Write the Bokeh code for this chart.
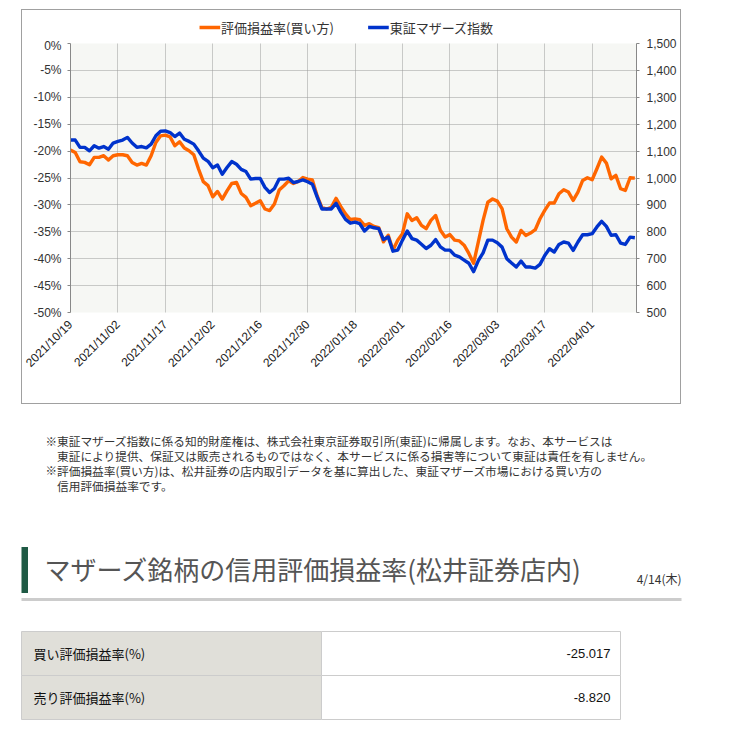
import math
from bokeh.plotting import figure
from bokeh.models import (Range1d, LinearAxis, FixedTicker, PrintfTickFormatter,
                          NumeralTickFormatter, ColumnDataSource, Spacer)
from bokeh.layouts import column, row
from bokeh.embed import file_html
from bokeh.resources import INLINE
from bokeh.core.properties import value

# ---------------- data ----------------
tick_labels = ["2021/10/19", "2021/11/02", "2021/11/17", "2021/12/02", "2021/12/16",
               "2021/12/30", "2022/01/18", "2022/02/01", "2022/02/16", "2022/03/03",
               "2022/03/17", "2022/04/01"]

# 評価損益率(買い方) [%]
buy_rate = [
    -19.81, -20.25, -21.98, -22.10, -22.53, -21.17, -21.17, -20.86, -21.67, -20.86,
    -20.68, -20.68, -20.86, -22.10, -22.59, -22.28, -22.59, -20.86, -18.40, -17.16,
    -17.04, -17.35, -19.01, -18.27, -19.44, -19.94, -20.68, -23.33, -25.68, -26.42,
    -28.50, -27.50, -28.91, -27.38, -26.02, -25.84, -27.87, -28.60, -30.14, -29.71,
    -29.22, -30.76, -31.06, -29.83, -27.25, -26.45, -25.53, -26.02, -25.65, -24.92,
    -25.22, -25.35, -28.30, -30.45, -30.76, -30.45, -28.79, -30.33, -31.68, -32.72,
    -32.60, -32.76, -33.80, -33.50, -33.99, -34.23, -36.87, -35.64, -38.40, -36.56,
    -35.34, -31.66, -32.88, -32.39, -33.80, -34.42, -32.88, -31.96, -34.72, -35.95,
    -35.52, -36.56, -36.69, -37.48, -39.02, -40.86, -36.87, -32.88, -29.51, -28.90,
    -29.30, -30.71, -34.43, -35.98, -36.90, -34.74, -35.67, -35.23, -34.61, -32.57,
    -31.02, -29.66, -29.66, -27.93, -27.18, -27.62, -29.16, -27.62, -25.45, -24.95,
    -25.33, -23.28, -21.11, -22.23, -25.14, -24.52, -27.00, -27.31, -24.95, -25.02,
]

# 東証マザーズ指数
mothers_index = [
    1141, 1141, 1114, 1114, 1101, 1120, 1111, 1117, 1107, 1130,
    1136, 1141, 1151, 1130, 1114, 1117, 1112, 1126, 1157, 1174,
    1175, 1169, 1154, 1167, 1144, 1136, 1126, 1101, 1074, 1062,
    1038, 1048, 1014, 1039, 1061, 1051, 1032, 1024, 996, 998,
    998, 965, 946, 961, 996, 996, 999, 983, 987, 993,
    986, 977, 930, 885, 885, 885, 906, 873, 846, 832,
    836, 830, 803, 820, 815, 812, 771, 781, 728, 732,
    769, 803, 775, 769, 754, 738, 750, 771, 744, 732,
    732, 713, 707, 695, 683, 652, 693, 722, 769, 769,
    759, 743, 700, 684, 669, 691, 669, 669, 665, 679,
    712, 737, 725, 753, 762, 758, 731, 762, 789, 789,
    793, 818, 839, 820, 787, 789, 758, 753, 780, 778,
]

series_names = ["評価損益率(買い方)", "東証マザーズ指数"]
series_colors = ["#ff6600", "#0033cc"]

note_lines = [
    "東証マザーズ指数に係る知的財産権は、株式会社東京証券取引所(東証)に帰属します。なお、本サービスは",
    "東証により提供、保証又は販売されるものではなく、本サービスに係る損害等について東証は責任を有しません。",
    "評価損益率(買い方)は、松井証券の店内取引データを基に算出した、東証マザーズ市場における買い方の",
    "信用評価損益率です。",
]
heading = "マザーズ銘柄の信用評価損益率(松井証券店内)"
heading_date = "4/14(木)"
table_labels = ["買い評価損益率(%)", "売り評価損益率(%)"]
table_values = ["-25.017", "-8.820"]

JP = "Noto Sans CJK JP"
LAT = "Liberation Sans"
LW = 3.4

# ---------------- legend strip (top of the chart box) ----------------
LG_H = 28
lg = figure(width=658, height=LG_H, x_range=Range1d(22, 680), y_range=Range1d(10 + LG_H, 10),
            output_backend="svg", toolbar_location=None, x_axis_type=None, y_axis_type=None,
            min_border=0, outline_line_color=None, background_fill_color="white",
            border_fill_color="white")
lg.grid.visible = False
swatch_x = [172, 368]
lg.segment(x0=swatch_x, x1=[s + 24 for s in swatch_x], y0=[27, 27], y1=[27, 27],
           line_color=series_colors, line_width=LW)
lg.text(x=[s + 25 for s in swatch_x], y=[26.5, 26.5], text=series_names, text_font=value(JP),
        text_font_size="13px", text_color="#333333", text_baseline="middle")

# ---------------- chart ----------------
n = len(buy_rate)
src = ColumnDataSource(dict(x=list(range(n)), buy=buy_rate, idx=mothers_index))

p = figure(width=658, height=393 - LG_H, x_range=Range1d(0, 119.35), y_range=Range1d(-50, 0),
           output_backend="svg", toolbar_location=None,
           min_border_left=48, min_border_right=44, min_border_top=33 - LG_H,
           min_border_bottom=91,
           background_fill_color="#f6f7f4", border_fill_color="white",
           outline_line_color=None)

xt = list(range(0, n, 10))
p.xaxis.ticker = FixedTicker(ticks=xt)
p.xaxis.major_label_overrides = {t: lab for t, lab in zip(xt, tick_labels)}
p.xaxis.major_label_orientation = math.pi / 4
p.xaxis.axis_line_color = None
p.xaxis.major_tick_line_color = None
p.xaxis.minor_tick_line_color = None
p.xaxis.major_label_standoff = 4
p.xaxis.major_label_text_font = LAT
p.xaxis.major_label_text_font_size = "12px"
p.xaxis.major_label_text_color = "#1a1a1a"

p.yaxis.ticker = FixedTicker(ticks=list(range(-50, 1, 5)))
p.yaxis.formatter = PrintfTickFormatter(format="%d%%")
p.yaxis.axis_line_color = "#888888"
p.yaxis.major_tick_line_color = "#888888"
p.yaxis.major_tick_out = 3
p.yaxis.major_tick_in = 0
p.yaxis.minor_tick_line_color = None
p.yaxis.major_label_standoff = 6
p.yaxis.major_label_text_font = LAT
p.yaxis.major_label_text_font_size = "12px"
p.yaxis.major_label_text_color = "#333333"

p.extra_y_ranges = {"idx": Range1d(500, 1500)}
ax_r = LinearAxis(y_range_name="idx", ticker=FixedTicker(ticks=list(range(500, 1501, 100))),
                  formatter=NumeralTickFormatter(format="0,0"))
ax_r.axis_line_color = "#888888"
ax_r.major_tick_line_color = "#888888"
ax_r.major_tick_out = 3
ax_r.major_tick_in = 0
ax_r.minor_tick_line_color = None
ax_r.major_label_standoff = 7
ax_r.major_label_text_font = LAT
ax_r.major_label_text_font_size = "12px"
ax_r.major_label_text_color = "#333333"
p.add_layout(ax_r, "right")

p.xgrid.ticker = FixedTicker(ticks=xt)
for g in (p.xgrid, p.ygrid):
    g.grid_line_color = "#9a9a9a"
    g.grid_line_dash = "1 1"
    g.grid_line_width = 1

p.line("x", "buy", source=src, line_color=series_colors[0], line_width=LW, line_join="round")
p.line("x", "idx", source=src, y_range_name="idx", line_color=series_colors[1],
       line_width=LW, line_join="round")

box = column(lg, p, spacing=0, styles={"border": "1px solid #a0a0a0"})

# ---------------- page text below the chart ----------------
Y0 = 404
q = figure(width=744, height=732 - Y0, x_range=Range1d(0, 744), y_range=Range1d(732, Y0),
           output_backend="svg", toolbar_location=None, x_axis_type=None, y_axis_type=None,
           min_border=0, outline_line_color=None, background_fill_color="white",
           border_fill_color="white")
q.grid.visible = False

note_y = [440, 455, 469.5, 484.5]
q.text(x=[45, 45], y=[note_y[0], note_y[2]], text=["※", "※"], text_font=value(JP),
       text_font_size="11.5px", text_color="#333333", text_baseline="middle")
q.text(x=[56.5] * 4, y=note_y, text=note_lines, text_font=value(JP),
       text_font_size="11.7px", text_color="#333333", text_baseline="middle")

q.quad(left=[21], right=[27.5], top=[546.5], bottom=[592.5], fill_color="#1f5a45", line_color=None)
q.text(x=[44], y=[568], text=[heading], text_font=value(JP), text_font_size="26px",
       text_color="#555555", text_baseline="middle")
q.text(x=[681], y=[578], text=[heading_date], text_font=value(JP), text_font_size="12px",
       text_color="#333333", text_baseline="middle", text_align="right")
q.segment(x0=[21], x1=[681], y0=[599], y1=[599], line_color="#cccccc", line_width=3)

row_top = [631, 675]
row_bot = [675, 719]
q.quad(left=[21, 21], right=[321, 321], top=row_top, bottom=row_bot,
       fill_color="#e0dfd9", line_color="#cccccc", line_width=1)
q.quad(left=[321, 321], right=[620, 620], top=row_top, bottom=row_bot,
       fill_color="white", line_color="#cccccc", line_width=1)
row_mid = [(a + b) / 2 for a, b in zip(row_top, row_bot)]
q.text(x=[33, 33], y=row_mid, text=table_labels, text_font=value(JP), text_font_size="13px",
       text_color="#111111", text_baseline="middle")
q.text(x=[610, 610], y=row_mid, text=table_values, text_font=value(LAT), text_font_size="13px",
       text_color="#111111", text_baseline="middle", text_align="right")

layout = column(Spacer(height=9), row(Spacer(width=21), box), q, spacing=0)
open("out.html", "w").write(file_html(layout, INLINE))
